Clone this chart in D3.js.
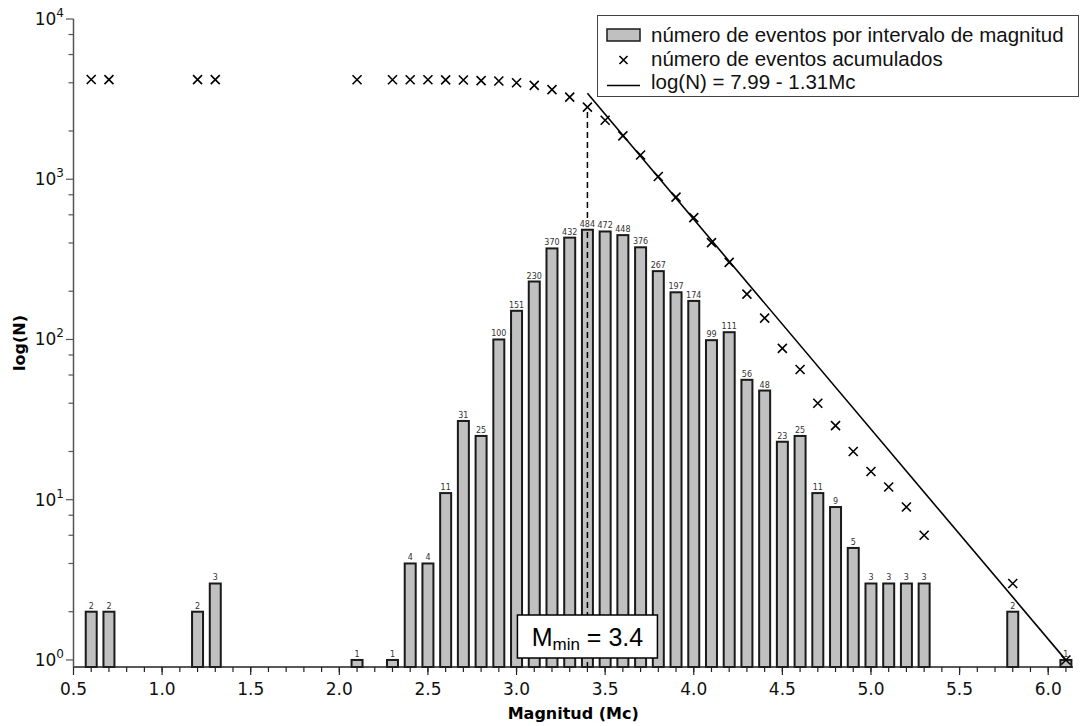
<!DOCTYPE html>
<html>
<head>
<meta charset="utf-8">
<script src="https://cdn.jsdelivr.net/npm/d3@7"></script>
<style>
  body { margin: 0; background: #fff; }
  svg { display: block; }
</style>
</head>
<body>
<div id="page"></div>
<script>
// magnitude bins and counts per bin
var magnitudes = [0.6, 0.7, 1.2, 1.3, 2.1, 2.3, 2.4, 2.5, 2.6, 2.7, 2.8, 2.9, 3.0, 3.1, 3.2, 3.3, 3.4, 3.5, 3.6, 3.7,
                  3.8, 3.9, 4.0, 4.1, 4.2, 4.3, 4.4, 4.5, 4.6, 4.7, 4.8, 4.9, 5.0, 5.1, 5.2, 5.3, 5.8, 6.1];
var counts = [2, 2, 2, 3, 1, 1, 4, 4, 11, 31, 25, 100, 151, 230, 370, 432, 484, 472, 448, 376,
              267, 197, 174, 99, 111, 56, 48, 23, 25, 11, 9, 5, 3, 3, 3, 3, 2, 1];
// accumulated events (N >= M)
var cumulative = [4189, 4187, 4185, 4183, 4180, 4179, 4178, 4174, 4170, 4159, 4128, 4103, 4003, 3852, 3622, 3252, 2820, 2336, 1864, 1416,
                  1040, 773, 576, 402, 303, 192, 136, 88, 65, 40, 29, 20, 15, 12, 9, 6, 3, 1];
var fitA = 7.99, fitB = 1.31;
var fitRange = [3.4, 6.1];
var mMin = 3.4;
var xTicks = [0.5, 1.0, 1.5, 2.0, 2.5, 3.0, 3.5, 4.0, 4.5, 5.0, 5.5, 6.0];
var yTicks = [1, 10, 100, 1000, 10000];
var legendLabels = ["número de eventos por intervalo de magnitud", "número de eventos acumulados", "log(N) = 7.99 - 1.31Mc"];

var width = 1091, height = 726;
var svg = d3.select("#page").append("svg")
    .attr("width", width)
    .attr("height", height);

var x = d3.scaleLinear().domain([0.5, 6.14]).range([73.5, 1073]);
var y = d3.scaleLog().domain([Math.pow(10, -0.044), 10000]).range([667, 19]);
var y0 = y.range()[0];

var barHalf = 0.031;

// bars
svg.append("g").selectAll("rect")
    .data(magnitudes)
  .enter().append("rect")
    .attr("x", function(d) { return x(d - barHalf); })
    .attr("width", function(d) { return x(d + barHalf) - x(d - barHalf); })
    .attr("y", function(d, i) { return y(counts[i]); })
    .attr("height", function(d, i) { return y0 - y(counts[i]); })
    .style("fill", "#c0c0c0")
    .style("stroke", "#1a1a1a")
    .style("stroke-width", 2);

// dashed Mmin line
svg.append("line")
    .attr("x1", x(mMin)).attr("x2", x(mMin))
    .attr("y1", y(cumulative[magnitudes.indexOf(mMin)]) + 5)
    .attr("y2", y0)
    .style("stroke", "#000")
    .style("stroke-width", 1.5)
    .style("stroke-dasharray", "6,4");

// bar labels (white halo so the dashed line does not cross them)
svg.append("g").selectAll("text")
    .data(magnitudes)
  .enter().append("text")
    .attr("x", function(d) { return x(d); })
    .attr("y", function(d, i) { return y(counts[i]) - 3; })
    .attr("text-anchor", "middle")
    .style("font-family", "DejaVu Sans, Verdana, sans-serif")
    .style("font-size", "8px")
    .style("fill", "#333")
    .style("paint-order", "stroke")
    .style("stroke", "#fff")
    .style("stroke-width", 2)
    .text(function(d, i) { return counts[i]; });

// fit line
svg.append("line")
    .attr("x1", x(fitRange[0])).attr("y1", y(Math.pow(10, fitA - fitB * fitRange[0])))
    .attr("x2", x(fitRange[1])).attr("y2", y(Math.pow(10, fitA - fitB * fitRange[1])))
    .style("stroke", "#000")
    .style("stroke-width", 1.6);

// cumulative crosses
var cross = function(g, cx, cy, r) {
  g.append("path")
      .attr("d", "M" + (cx - r) + "," + (cy - r) + "L" + (cx + r) + "," + (cy + r) +
                 "M" + (cx - r) + "," + (cy + r) + "L" + (cx + r) + "," + (cy - r))
      .style("stroke", "#000")
      .style("stroke-width", 1.6)
      .style("fill", "none");
};
var crosses = svg.append("g");
magnitudes.forEach(function(m, i) {
  cross(crosses, x(m), y(cumulative[i]), 4.5);
});

// Mmin box
var bx = x(mMin);
svg.append("rect")
    .attr("x", bx - 70).attr("y", 615)
    .attr("width", 140).attr("height", 43)
    .style("fill", "#fff")
    .style("stroke", "#000")
    .style("stroke-width", 1.5);
var mt = svg.append("text")
    .attr("x", bx).attr("y", 646)
    .attr("text-anchor", "middle")
    .style("font-family", "Liberation Sans, Arial, sans-serif")
    .style("font-size", "25px")
    .style("fill", "#000");
mt.append("tspan").text("M");
mt.append("tspan").attr("dy", 4).style("font-size", "17px").text("min");
mt.append("tspan").attr("dy", -4).text(" = 3.4");

// x axis
var gx = svg.append("g");
gx.append("line")
    .attr("x1", x.range()[0]).attr("x2", x.range()[1])
    .attr("y1", y0).attr("y2", y0)
    .style("stroke", "#222").style("stroke-width", 1.5);
var minorX = d3.range(6, 62).map(function(v) { return v / 10; });
gx.selectAll(".mx").data(minorX).enter().append("line")
    .attr("x1", function(d) { return x(d); }).attr("x2", function(d) { return x(d); })
    .attr("y1", y0).attr("y2", y0 + 5)
    .style("stroke", "#222").style("stroke-width", 1.2);
gx.selectAll(".Mx").data(xTicks).enter().append("line")
    .attr("x1", function(d) { return x(d); }).attr("x2", function(d) { return x(d); })
    .attr("y1", y0).attr("y2", y0 + 8)
    .style("stroke", "#222").style("stroke-width", 1.2);
gx.selectAll("text").data(xTicks).enter().append("text")
    .attr("x", function(d) { return x(d); })
    .attr("y", 695)
    .attr("text-anchor", "middle")
    .style("font-family", "DejaVu Sans, Verdana, sans-serif")
    .style("font-size", "17px")
    .style("fill", "#111")
    .text(function(d) { return d3.format(".1f")(d); });
svg.append("text")
    .attr("x", (x.range()[0] + x.range()[1]) / 2)
    .attr("y", 719)
    .attr("text-anchor", "middle")
    .style("font-family", "DejaVu Sans, Verdana, sans-serif")
    .style("font-weight", "bold")
    .style("font-size", "16px")
    .text("Magnitud (Mc)");

// y axis
var gy = svg.append("g");
gy.append("line")
    .attr("x1", 73.5).attr("x2", 73.5)
    .attr("y1", y.range()[1]).attr("y2", y0)
    .style("stroke", "#555").style("stroke-width", 1.5);
var minorY = [];
[1, 10, 100, 1000].forEach(function(dec) {
  [2, 4, 6, 8].forEach(function(k) { minorY.push(dec * k); });
});
gy.selectAll(".my").data(minorY).enter().append("line")
    .attr("x1", 68.5).attr("x2", 73.5)
    .attr("y1", function(d) { return y(d); }).attr("y2", function(d) { return y(d); })
    .style("stroke", "#555").style("stroke-width", 1.2);
gy.selectAll(".My").data(yTicks).enter().append("line")
    .attr("x1", 66).attr("x2", 73.5)
    .attr("y1", function(d) { return y(d); }).attr("y2", function(d) { return y(d); })
    .style("stroke", "#555").style("stroke-width", 1.2);
var yl = gy.selectAll("text").data(yTicks).enter().append("text")
    .attr("x", 64)
    .attr("y", function(d) { return y(d) + 6; })
    .attr("text-anchor", "end")
    .style("font-family", "DejaVu Sans, Verdana, sans-serif")
    .style("font-size", "17px")
    .style("fill", "#111");
yl.append("tspan").text("10");
yl.append("tspan").attr("dy", -8).style("font-size", "12px")
    .text(function(d) { return Math.round(Math.log10(d)); });
svg.append("text")
    .attr("transform", "translate(25," + ((y.range()[0] + y.range()[1]) / 2) + ") rotate(-90)")
    .attr("text-anchor", "middle")
    .style("font-family", "DejaVu Sans, Verdana, sans-serif")
    .style("font-weight", "bold")
    .style("font-size", "16px")
    .text("log(N)");

// legend
var lg = svg.append("g");
lg.append("rect")
    .attr("x", 597.5).attr("y", 15.5)
    .attr("width", 481).attr("height", 81)
    .style("fill", "#fff")
    .style("stroke", "#444")
    .style("stroke-width", 1);
lg.append("rect")
    .attr("x", 607).attr("y", 29)
    .attr("width", 33).attr("height", 12)
    .style("fill", "#c0c0c0").style("stroke", "#1a1a1a").style("stroke-width", 1.5);
cross(lg, 623.5, 60, 4);
lg.append("line")
    .attr("x1", 607).attr("x2", 640).attr("y1", 85.5).attr("y2", 85.5)
    .style("stroke", "#000").style("stroke-width", 1.5);
lg.selectAll("text").data(legendLabels).enter().append("text")
    .attr("x", 651)
    .attr("y", function(d, i) { return 42 + i * 23.5; })
    .style("font-family", "Liberation Sans, Arial, sans-serif")
    .style("font-size", "20.5px")
    .style("fill", "#111")
    .text(function(d) { return d; });
</script>
</body>
</html>
